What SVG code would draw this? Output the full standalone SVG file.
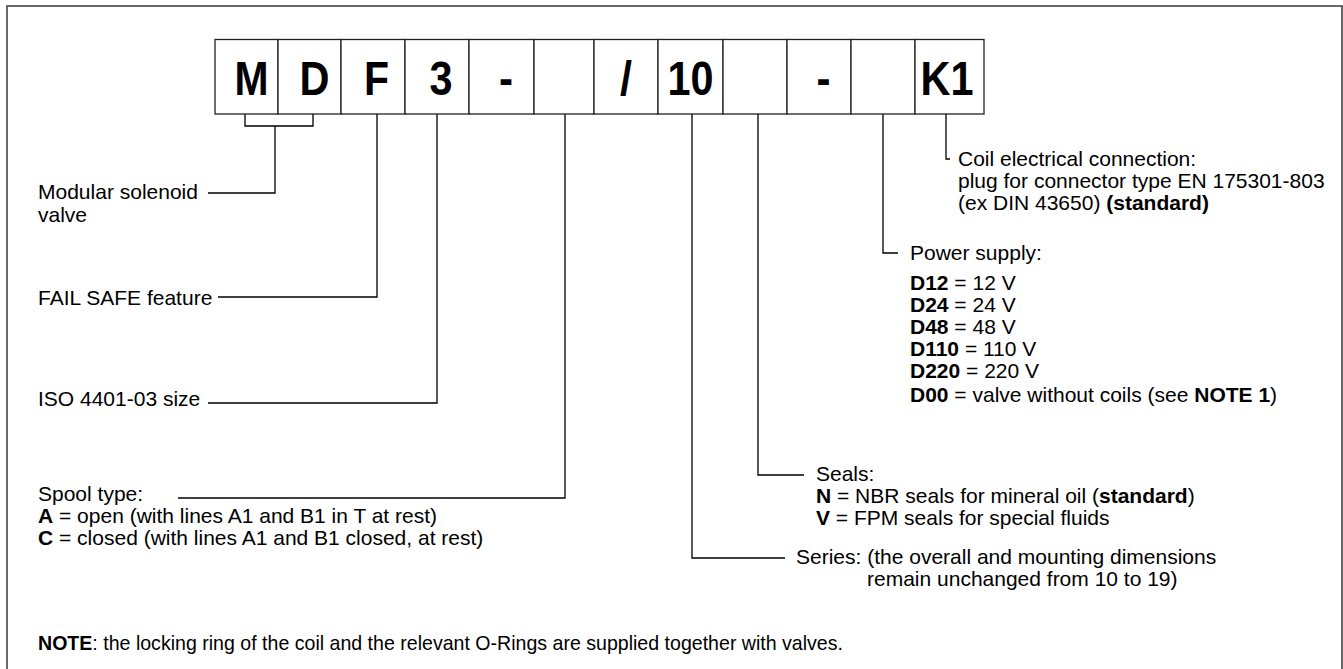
<svg xmlns="http://www.w3.org/2000/svg" width="1343" height="669" viewBox="0 0 1343 669">
<style>
.t{font-family:"Liberation Sans",Arial,Helvetica,sans-serif;font-size:21px;fill:#000}
.b{font-weight:bold}
.big{font-family:"Liberation Sans",Arial,Helvetica,sans-serif;font-size:48px;font-weight:bold;fill:#000;text-anchor:middle}
.box{fill:#fff;stroke:#222;stroke-width:1.3}
.ln{fill:none;stroke:#000;stroke-width:1.3}
.frame{fill:#fff;stroke:#444;stroke-width:1.6}
</style>
<rect class="frame" x="7" y="6" width="1335" height="700"/>
<g id="code">
<g id="box-M"><rect class="box" x="215" y="39.5" width="63" height="74.5"/><text class="big" x="251.5" y="95" textLength="34" lengthAdjust="spacingAndGlyphs">M</text></g>
<g id="box-D"><rect class="box" x="278" y="39.5" width="63" height="74.5"/><text class="big" x="314.5" y="95" textLength="30" lengthAdjust="spacingAndGlyphs">D</text></g>
<g id="box-F"><rect class="box" x="341" y="39.5" width="64" height="74.5"/><text class="big" x="376.5" y="95" textLength="25" lengthAdjust="spacingAndGlyphs">F</text></g>
<g id="box-3"><rect class="box" x="405" y="39.5" width="64" height="74.5"/><text class="big" x="441" y="95" textLength="23" lengthAdjust="spacingAndGlyphs">3</text></g>
<g id="box-dash1"><rect class="box" x="469" y="39.5" width="65" height="74.5"/><text class="big" x="506" y="95" textLength="14" lengthAdjust="spacingAndGlyphs">-</text></g>
<g id="box-spool"><rect class="box" x="534" y="39.5" width="60" height="74.5"/></g>
<g id="box-slash"><rect class="box" x="594" y="39.5" width="64" height="74.5"/><text class="big" x="626" y="95" textLength="12" lengthAdjust="spacingAndGlyphs">/</text></g>
<g id="box-10"><rect class="box" x="658" y="39.5" width="65" height="74.5"/><text class="big" x="690.5" y="95" textLength="46" lengthAdjust="spacingAndGlyphs">10</text></g>
<g id="box-seals"><rect class="box" x="723" y="39.5" width="64" height="74.5"/></g>
<g id="box-dash2"><rect class="box" x="787" y="39.5" width="64" height="74.5"/><text class="big" x="823.5" y="95" textLength="14" lengthAdjust="spacingAndGlyphs">-</text></g>
<g id="box-power"><rect class="box" x="851" y="39.5" width="64" height="74.5"/></g>
<g id="box-K1"><rect class="box" x="915" y="39.5" width="69" height="74.5"/><text class="big" x="947" y="95" textLength="53" lengthAdjust="spacingAndGlyphs">K1</text></g>
</g>
<g id="connectors">
<path class="ln" d="M245 114V126H313V114M275 126V193H208"/>
<path class="ln" d="M377 114V297H218"/>
<path class="ln" d="M437 114V403H208"/>
<path class="ln" d="M565 114V498H178"/>
<path class="ln" d="M692 114V558H785"/>
<path class="ln" d="M758 114V475H804"/>
<path class="ln" d="M883 114V253H898"/>
<path class="ln" d="M946 114V159H950"/>
</g>
<g id="label-modular"><text class="t" x="38" y="199">Modular solenoid</text><text class="t" x="38" y="222">valve</text></g>
<g id="label-failsafe"><text class="t" x="38" y="305">FAIL SAFE feature</text></g>
<g id="label-size"><text class="t" x="38" y="406">ISO 4401-03 size</text></g>
<g id="label-spool">
<text class="t" x="38" y="500.5">Spool type:</text>
<text class="t" x="38" y="522.5"><tspan class="b">A</tspan> = open (with lines A1 and B1 in T at rest)</text>
<text class="t" x="38" y="544.5"><tspan class="b">C</tspan> = closed (with lines A1 and B1 closed, at rest)</text>
</g>
<g id="label-coil">
<text class="t" x="958" y="165.5">Coil electrical connection:</text>
<text class="t" x="958" y="187.5">plug for connector type EN 175301-803</text>
<text class="t" x="958" y="209.5">(ex DIN 43650) <tspan class="b">(standard)</tspan></text>
</g>
<g id="label-power">
<text class="t" x="910" y="260">Power supply:</text>
<text class="t" x="910" y="290"><tspan class="b">D12</tspan> = 12 V</text>
<text class="t" x="910" y="312"><tspan class="b">D24</tspan> = 24 V</text>
<text class="t" x="910" y="334"><tspan class="b">D48</tspan> = 48 V</text>
<text class="t" x="910" y="356"><tspan class="b">D110</tspan> = 110 V</text>
<text class="t" x="910" y="378"><tspan class="b">D220</tspan> = 220 V</text>
<text class="t" x="910" y="402"><tspan class="b">D00</tspan> = valve without coils (see <tspan class="b">NOTE 1</tspan>)</text>
</g>
<g id="label-seals">
<text class="t" x="816" y="481">Seals:</text>
<text class="t" x="816" y="503"><tspan class="b">N</tspan> = NBR seals for mineral oil (<tspan class="b">standard</tspan>)</text>
<text class="t" x="816" y="525"><tspan class="b">V</tspan> = FPM seals for special fluids</text>
</g>
<g id="label-series">
<text class="t" x="796" y="563.5">Series: (the overall and mounting dimensions</text>
<text class="t" x="867" y="585.5">remain unchanged from 10 to 19)</text>
</g>
<g id="note"><text class="t" x="38" y="649.5" textLength="805" lengthAdjust="spacingAndGlyphs"><tspan class="b">NOTE</tspan>: the locking ring of the coil and the relevant O-Rings are supplied together with valves.</text></g>
</svg>
